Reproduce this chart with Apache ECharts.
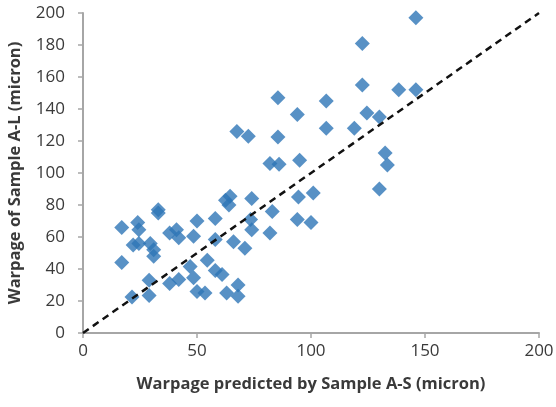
<!DOCTYPE html>
<html>
<head>
<meta charset="utf-8">
<script src="https://cdn.jsdelivr.net/npm/echarts@6/dist/echarts.min.js"></script>
<style>
  html, body { margin: 0; padding: 0; background: #fff; }
  #chart { width: 556px; height: 407px; }
</style>
</head>
<body>
<div id="chart"></div>
<script>
// predicted by A-S (x) vs measured A-L (y), microns
const predictedAS = [
  17, 17, 21.5, 24, 24.5, 22, 24.5, 29.5, 31, 31, 33, 33, 29, 29,
  38, 41, 42, 38, 42, 48.5, 50, 47, 48.5, 50, 54.5, 53.5,
  58, 58, 58, 61, 62.5, 64.5, 64, 66, 63, 68, 68, 71, 74, 73.5, 74,
  67.5, 72.5, 83, 82, 82, 86, 85.5, 85.5, 94, 94.5, 95, 94, 101, 100,
  106.7, 106.7, 119, 122.5, 122.5, 124.5, 130, 138.5, 146, 146, 132.5, 133.5, 130
]
const measuredAL = [
  66, 44, 22.5, 69, 64.5, 55, 56, 56, 52, 48, 77, 75, 33, 23.5,
  62.5, 64.5, 59.5, 31, 33.5, 60.5, 70, 41.5, 34.5, 26, 45.5, 25,
  71.5, 58.5, 39, 36.5, 83, 85.5, 80, 57, 25, 30, 23, 53, 84, 71, 64.5,
  126, 123, 76, 62.5, 106, 105.5, 122.5, 147, 71, 85, 108, 136.5, 87.5, 69,
  145, 128, 128, 181, 155, 137.5, 135, 152, 152, 197, 112.5, 105, 90
]
const refLine = [[0, 0], [200, 200]]
const xTicks = [0, 50, 100, 150, 200]
const yTicks = [0, 20, 40, 60, 80, 100, 120, 140, 160, 180, 200]

const points = predictedAS.map((x, i) => [x, measuredAL[i]])

const font = '"Open Sans", Lato, sans-serif'
const axisGray = '#a6a6a6'
const textCol = '#3a3a3a'

const chart = echarts.init(document.getElementById('chart'), null, { renderer: 'canvas' })

chart.setOption({
  animation: false,
  textStyle: { fontFamily: font },
  grid: { left: 83, right: 17, top: 13, bottom: 74, outerBoundsMode: 'none', containLabel: false },
  xAxis: {
    type: 'value',
    min: xTicks[0],
    max: xTicks[xTicks.length - 1],
    interval: 50,
    name: 'Warpage predicted by Sample A-S (micron)',
    nameLocation: 'middle',
    nameGap: 43,
    nameTextStyle: { fontSize: 16.5, fontWeight: 'bold', color: textCol, fontFamily: font },
    axisLine: { show: true, onZero: false, lineStyle: { color: axisGray, width: 2 } },
    axisTick: { show: true, length: 5, lineStyle: { color: axisGray, width: 1.5 } },
    axisLabel: { fontSize: 17, color: textCol, margin: 10, fontFamily: font },
    splitLine: { show: false }
  },
  yAxis: {
    type: 'value',
    min: yTicks[0],
    max: yTicks[yTicks.length - 1],
    interval: 20,
    name: 'Warpage of Sample A-L (micron)',
    nameLocation: 'middle',
    nameGap: 59,
    nameTextStyle: { fontSize: 16.5, fontWeight: 'bold', color: textCol, fontFamily: font },
    axisLine: { show: true, onZero: false, lineStyle: { color: axisGray, width: 2 } },
    axisTick: { show: true, length: 5, lineStyle: { color: axisGray, width: 1.5 } },
    axisLabel: { fontSize: 17, color: textCol, margin: 18, fontFamily: font },
    splitLine: { show: false }
  },
  series: [
    {
      type: 'line',
      data: refLine,
      symbol: 'none',
      silent: true,
      z: 3,
      lineStyle: { color: '#111', width: 2.5, type: [7, 5] }
    },
    {
      type: 'scatter',
      data: points,
      symbol: 'diamond',
      symbolSize: 15,
      z: 2,
      itemStyle: { color: '#2e75b6' }
    }
  ]
})
</script>
</body>
</html>
